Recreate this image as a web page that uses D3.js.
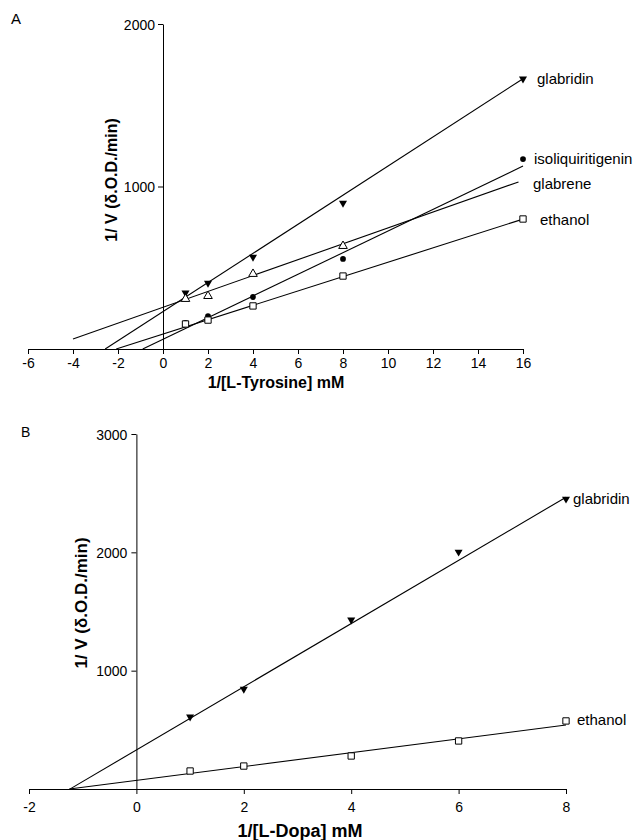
<!DOCTYPE html>
<html>
<head>
<meta charset="utf-8">
<script src="https://cdn.jsdelivr.net/npm/d3@7"></script>
<style>
  body { margin: 0; background: #fff; }
  svg { font-family: "Liberation Sans", Arial, sans-serif; }
  .tick text { font-size: 14px; fill: #000; }
  .tick line, .domain { stroke: #000; }
</style>
</head>
<body>
<div class="chart"></div>
<script>
// Panel A: 1/[L-Tyrosine]
const xA = [1, 2, 4, 8, 16];
const glabridinA = [345, 406, 566, 898, 1662];
const isoliqA = [160, 203, 320, 554, 1169];
const glabreneA = [308, 326, 462, 634];
const ethanolA = [154, 178, 265, 449, 800];
// fitted lines: intercept, slope, x range
const fitA = [
  { name: "glabridin", b: 230, m: 89.6, x0: -2.57, x1: 16 },
  { name: "isoliquiritigenin", b: 60, m: 66.6, x0: -0.9, x1: 16 },
  { name: "glabrene", b: 257, m: 48.8, x0: -4, x1: 15.8 },
  { name: "ethanol", b: 92, m: 44.2, x0: -2.08, x1: 16 }
];
const xTicksA = [-6, -4, -2, 0, 2, 4, 6, 8, 10, 12, 14, 16];
const yTicksA = [1000, 2000];

// Panel B: 1/[L-Dopa]
const xB = [1, 2, 4, 6, 8];
const glabridinB = [609, 845, 1429, 2003, 2451];
const ethanolB = [152, 194, 279, 406, 575];
const fitB = [
  { name: "glabridin", b: 330, m: 267, x0: -1.24, x1: 8 },
  { name: "ethanol", b: 73, m: 58.5, x0: -1.25, x1: 8 }
];
const xTicksB = [-2, 0, 2, 4, 6, 8];
const yTicksB = [1000, 2000, 3000];

const svg = d3.select(".chart")
  .append("svg")
  .attr("width", 641)
  .attr("height", 840);

// ---- shapes
const triDown = d3.symbol().type(d3.symbolTriangle).size(28);
const triUp = d3.symbol().type(d3.symbolTriangle).size(32);
const circ = d3.symbol().type(d3.symbolCircle).size(26);
const sq = d3.symbol().type(d3.symbolSquare).size(40);
const plain = d => String(d);

function drawPanel(g, x, y, fits, series, xTicks, yTicks, pad) {
  g.append("g")
    .attr("transform", "translate(0," + y(0) + ")")
    .call(d3.axisBottom(x).tickValues(xTicks).tickFormat(plain).tickSize(5).tickSizeOuter(0).tickPadding(pad.x));

  g.append("g")
    .attr("transform", "translate(" + x(0) + ",0)")
    .call(d3.axisLeft(y).tickValues(yTicks).tickFormat(plain).tickSize(5).tickSizeOuter(0).tickPadding(pad.y))
    .call(a => a.selectAll(".tick text").attr("dy", "0.36em"));

  g.selectAll(".fit")
    .data(fits).enter()
    .append("line")
    .attr("x1", d => x(d.x0))
    .attr("y1", d => y(d.b + d.m * d.x0))
    .attr("x2", d => x(d.x1))
    .attr("y2", d => y(d.b + d.m * d.x1))
    .attr("stroke", "#000")
    .attr("stroke-width", 1.1);

  series.forEach(s => {
    g.selectAll(null)
      .data(s.vals).enter()
      .append("path")
      .attr("d", s.sym)
      .attr("transform", (d, i) => "translate(" + x(s.xs[i]) + "," + y(d) + ")" + (s.flip ? " rotate(180)" : ""))
      .attr("fill", s.open ? "#fff" : "#000")
      .attr("stroke", "#000")
      .attr("stroke-width", s.open ? 1 : 0);
  });
}

// ---- Panel A
const xScaleA = d3.scaleLinear().domain([-6, 16]).range([28, 523]);
const yScaleA = d3.scaleLinear().domain([0, 2000]).range([349, 24]);
const gA = svg.append("g");
drawPanel(gA, xScaleA, yScaleA, fitA, [
  { vals: glabridinA, xs: xA, sym: triDown, flip: true },
  { vals: isoliqA, xs: xA, sym: circ },
  { vals: glabreneA, xs: xA, sym: triUp, open: true },
  { vals: ethanolA, xs: xA, sym: sq, open: true }
], xTicksA, yTicksA, { x: 4, y: 3 });

gA.append("text").text("A").attr("x", 11).attr("y", 24).attr("font-size", 15);
gA.append("text")
  .text("1/[L-Tyrosine] mM")
  .attr("x", 276).attr("y", 388)
  .attr("text-anchor", "middle")
  .attr("font-size", 16).attr("font-weight", "bold");
gA.append("text")
  .text("1/ V (δ.O.D./min)")
  .attr("transform", "translate(117,180) rotate(-90)")
  .attr("text-anchor", "middle")
  .attr("font-size", 16).attr("font-weight", "bold");

const labelsA = [["glabridin", 537, 84], ["isoliquiritigenin", 534, 164], ["glabrene", 533, 189], ["ethanol", 540, 225]];
gA.selectAll(".lab")
  .data(labelsA).enter()
  .append("text")
  .text(d => d[0])
  .attr("x", d => d[1]).attr("y", d => d[2])
  .attr("font-size", 15);

// ---- Panel B
const xScaleB = d3.scaleLinear().domain([-2, 8]).range([29, 566]);
const yScaleB = d3.scaleLinear().domain([0, 3000]).range([789, 434]);
const gB = svg.append("g");
drawPanel(gB, xScaleB, yScaleB, fitB, [
  { vals: glabridinB, xs: xB, sym: triDown, flip: true },
  { vals: ethanolB, xs: xB, sym: sq, open: true }
], xTicksB, yTicksB, { x: 8, y: 4 });

gB.append("text").text("B").attr("x", 21).attr("y", 437).attr("font-size", 14);
gB.append("text")
  .text("1/[L-Dopa] mM")
  .attr("x", 300).attr("y", 837)
  .attr("text-anchor", "middle")
  .attr("font-size", 18).attr("font-weight", "bold");
gB.append("text")
  .text("1/ V (δ.O.D./min)")
  .attr("transform", "translate(87,603) rotate(-90)")
  .attr("text-anchor", "middle")
  .attr("font-size", 17).attr("font-weight", "bold");

const labelsB = [["glabridin", 573, 504], ["ethanol", 577, 725]];
gB.selectAll(".lab")
  .data(labelsB).enter()
  .append("text")
  .text(d => d[0])
  .attr("x", d => d[1]).attr("y", d => d[2])
  .attr("font-size", 15);
</script>
</body>
</html>
